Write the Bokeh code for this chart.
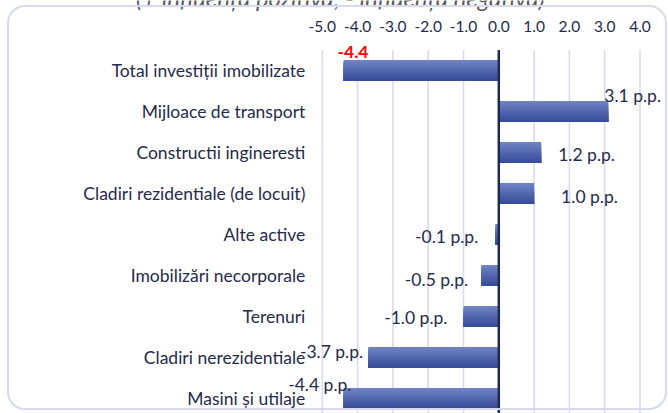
from bokeh.plotting import figure
from bokeh.models import Range1d, ColumnDataSource, InlineStyleSheet
from bokeh.transform import dodge
from bokeh.core.properties import value
from bokeh.embed import file_html
from bokeh.resources import INLINE

# ---- data ----
categories = ["Total investiții imobilizate", "Mijloace de transport", "Constructii ingineresti",
              "Cladiri rezidentiale (de locuit)", "Alte active", "Imobilizări necorporale",
              "Terenuri", "Cladiri nerezidentiale", "Masini și utilaje"]
values = [-4.4, 3.1, 1.2, 1.0, -0.1, -0.5, -1.0, -3.7, -4.4]
x_ticks = [-5, -4, -3, -2, -1, 0, 1, 2, 3, 4]
tick_labels = ["-5.0", "-4.0", "-3.0", "-2.0", "-1.0", "0.0", "1.0", "2.0", "3.0", "4.0"]
total_label = "-4.4"
unit = " p.p."
subtitle = "(+ influența pozitivă; - influența negativă)"

# label tweaks (screen px, down = positive), per row 1..8
label_dx = [-4, 17, 27, -17, -13, -16, -5, 8]
label_dy = [-16, 2, 3, 2, 4, 1, -6, -14]

FONT = "Lato"
TXT = "#252a4c"

rows = list(range(len(categories)))
n_rows = len(categories)

box_css = InlineStyleSheet(css="""
:host { position: relative; }
:host::after {
  content: ''; position: absolute; left: 7px; top: 5px; width: 660px; height: 405px;
  border: 2px solid #d6d9ef; border-radius: 18px; box-sizing: border-box; pointer-events: none;
}
""")

# frame covers the whole canvas; axis drawn from the data arrays
px_per_unit = 35.3
zero_px = 498.3
row_px = 41.0
top_px = 49.5
W, H = 668, 413
p = figure(width=W, height=H, output_backend="svg", toolbar_location=None,
           x_range=Range1d(-zero_px / px_per_unit, (W - zero_px) / px_per_unit),
           y_range=Range1d(-0.5 + (H - top_px) / row_px, -0.5 - top_px / row_px),
           x_axis_location=None, y_axis_location=None,
           min_border=0, stylesheets=[box_css])
p.outline_line_color = None
p.grid.grid_line_color = None

top_edge = -0.5
bottom_edge = n_rows

# vertical gridlines
p.segment(x0=x_ticks, x1=x_ticks, y0=[top_edge] * len(x_ticks), y1=[bottom_edge] * len(x_ticks),
          line_color="#d9dbef", line_width=1.6)

# tick labels (top)
p.text(x=x_ticks, y=[top_edge] * len(x_ticks), text=tick_labels, text_align="center",
       text_baseline="middle", y_offset=-23.5, text_font=value(FONT),
       text_font_size="15.5px", text_color=TXT)

# category labels (left)
p.text(x=[x_ticks[0]] * n_rows, y=rows, text=categories, text_align="right",
       text_baseline="middle", x_offset=-17, text_font=value(FONT),
       text_font_size="17.5px", text_color=TXT)

src = ColumnDataSource(dict(y=rows, v=values))

# gradient-like bars: nested layers, each reaching the bar bottom
n = 10
h = 0.51
top_c = (110, 130, 194)
bot_c = (56, 77, 155)
for k in range(n):
    t = k / (n - 1)
    c = tuple(int(top_c[j] + (bot_c[j] - top_c[j]) * t) for j in range(3))
    hk = h * (n - k) / n
    off = h / 2 - hk / 2
    p.hbar(y=dodge("y", off, range=p.y_range), right="v", left=0, height=hk,
           source=src, fill_color="#%02x%02x%02x" % c, line_color=None)

# zero axis line
p.segment(x0=[0], x1=[0], y0=[top_edge], y1=[bottom_edge], line_color="#1f2a50", line_width=2.5)

# data labels
for i in range(1, n_rows):
    v = values[i]
    p.text(x=[v], y=[i], text=["%.1f%s" % (v, unit)],
           text_align="left" if v >= 0 else "right",
           text_baseline="middle", x_offset=label_dx[i - 1], y_offset=label_dy[i - 1],
           text_font=value(FONT), text_font_size="17.5px", text_color=TXT)

p.text(x=[values[0]], y=[0], text=[total_label], text_align="left", text_baseline="middle",
       x_offset=-6, y_offset=-19, text_font=value(FONT), text_font_size="17.5px",
       text_font_style="bold", text_color="#ff0000")

# cropped subtitle above the box (only its lower part is visible, as in the source image)
p.text(x=[x_ticks[0]], y=[top_edge], text=[subtitle], text_align="center",
       text_baseline="alphabetic", x_offset=18, y_offset=-52.5, text_font=value(FONT),
       text_font_size="24px", text_font_style="italic", text_color="#595959")

open("out.html", "w").write(file_html(p, INLINE))
